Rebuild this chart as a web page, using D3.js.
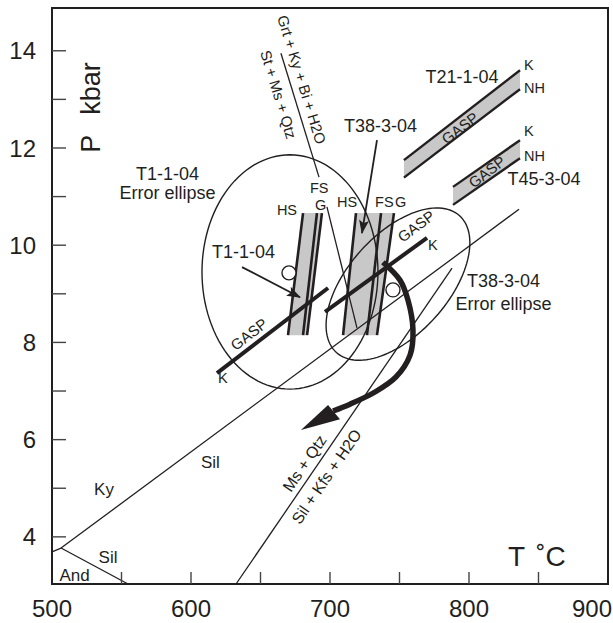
<!DOCTYPE html>
<html><head><meta charset="utf-8">
<script src="https://cdn.jsdelivr.net/npm/d3@7/dist/d3.min.js"></script>
<style>
body{margin:0;background:#fff;}
svg text{font-family:"Liberation Sans",Arial,Helvetica,sans-serif;fill:#231f20;}
</style></head><body>
<svg id="chart" width="613" height="623"></svg>
<script>
// ---------------- DATA (T in °C, P in kbar) ----------------
const tDomain = [500, 900];
const pDomain = [3.03, 14.88];
const xTickLabels = [500, 600, 700, 800, 900];
const xTickMarks = [550, 600, 650, 700, 750, 800, 850];
const yTickLabels = [4, 6, 8, 10, 12, 14];
const yTickMarks = [4, 5, 6, 7, 8, 9, 10, 11, 12, 13, 14];

// Aluminosilicate and other reaction lines
const andKy = [[500, 3.69], [506.5, 3.77]];
const andSil = [[506.5, 3.77], [554.7, 3.03]];
const kySil = [[506.5, 3.77], [836.0, 10.74]];
const msQtz = [[632.4, 3.03], [787.8, 9.53]];
const grtKyA = [[664.7, 13.95], [692.1, 11.40]];
const grtKyB = [[697.8, 10.79], [719.4, 8.30]];

// Garnet-biotite thermometer bands: [T at bottom P, T at top P]
const bandP = [8.15, 10.66];
const t1HS = [669.8, 680.6];
const t1FS = [680.6, 690.6];
const t1G = [683.5, 694.2];
const t38HS = [709.4, 718.7];
const t38FS = [726.6, 736.7];
const t38G = [733.8, 746.0];

// GASP barometer bands (K and NH calibrations)
const t21K = [[753.2, 11.75], [836.7, 13.60]];
const t21NH = [[753.2, 11.39], [836.7, 13.21]];
const t45K = [[788.5, 11.20], [836.7, 12.16]];
const t45NH = [[788.5, 10.83], [836.7, 11.79]];
const t1Gasp = [[618.7, 7.37], [698.6, 9.12]];
const t38Gasp = [[696.4, 8.63], [769.8, 10.15]];

// P-T estimates
const t1Point = [670.5, 9.43];
const t38Point = [745.3, 9.08];

// Error ellipses: centre, two conjugate half-axes (°C, kbar)
const t1EllCentre = [671.2, 9.45];
const t1EllAxisA = [63.3, 0];
const t1EllAxisB = [0, 2.41];
const t38EllCentre = [748.9, 9.20];
const t38EllAxisA = [44.3, 1.407];
const t38EllAxisB = [26.7, -0.689];

// Retrograde P-T path
const ptPath = [[738.1, 9.65], [750.4, 9.28], [756.1, 8.87], [759.7, 8.26], [757.6, 7.74],
                [747.5, 7.29], [732.4, 6.98], [714.4, 6.73], [702.2, 6.59]];
const ptHead = [[679.1, 6.20], [698.6, 6.71], [702.2, 6.59], [707.2, 6.42]];

// Label arrows
const t1Arrow = [[636.7, 9.55], [678.4, 8.93]];
const t38Arrow = [[733.8, 12.16], [723.0, 10.25]];

// ---------------- DRAWING ----------------
const ink = "#231f20", grey = "#c8c8c8";
const x = d3.scaleLinear().domain(tDomain).range([52, 608]);
const y = d3.scaleLinear().domain(pDomain).range([584, 8]);
const svg = d3.select("#chart");
const line = d3.line().x(d => x(d[0])).y(d => y(d[1]));

const defs = svg.append("defs");
defs.append("marker").attr("id", "ah").attr("viewBox", "-14 -6 16 12")
  .attr("refX", 0).attr("refY", 0).attr("markerWidth", 16).attr("markerHeight", 12)
  .attr("markerUnits", "userSpaceOnUse").attr("orient", "auto")
  .append("path").attr("d", "M1,0 L-13,-5 L-10,0 L-13,5 Z").attr("fill", ink);

const g = svg.append("g");

// grey bands
function bandPoly(a, b) {
  return [[a[0], bandP[0]], [a[1], bandP[1]], [b[1], bandP[1]], [b[0], bandP[0]]];
}
g.append("path").attr("d", line(bandPoly(t1HS, t1G)) + "Z").attr("fill", grey);
g.append("path").attr("d", line(bandPoly(t38HS, t38G)) + "Z").attr("fill", grey);
g.append("path").attr("d", line(t21K.concat(t21NH.slice().reverse())) + "Z").attr("fill", grey);
g.append("path").attr("d", line(t45K.concat(t45NH.slice().reverse())) + "Z").attr("fill", grey);

// thin reaction lines
[andKy, andSil, kySil, msQtz, grtKyA, grtKyB].forEach(l =>
  g.append("path").attr("d", line(l)).attr("fill", "none").attr("stroke", ink).attr("stroke-width", 1.3));

// ellipses
function ellipse(c, a, b) {
  return d3.range(0, 361, 3).map(deg => {
    const t = deg * Math.PI / 180;
    return [c[0] + a[0] * Math.cos(t) + b[0] * Math.sin(t), c[1] + a[1] * Math.cos(t) + b[1] * Math.sin(t)];
  });
}
g.append("path").attr("d", line.curve(d3.curveLinear)(ellipse(t1EllCentre, t1EllAxisA, t1EllAxisB)) + "Z")
  .attr("fill", "none").attr("stroke", ink).attr("stroke-width", 1.4);
g.append("path").attr("d", line(ellipse(t38EllCentre, t38EllAxisA, t38EllAxisB)) + "Z")
  .attr("fill", "none").attr("stroke", ink).attr("stroke-width", 1.4);

// thermometer lines
function bandLine(a) { return [[a[0], bandP[0]], [a[1], bandP[1]]]; }
[t1HS, t1FS, t1G, t38HS, t38FS, t38G].forEach(a =>
  g.append("path").attr("d", line(bandLine(a))).attr("fill", "none").attr("stroke", ink).attr("stroke-width", 2.6));

// GASP band edges
[t21K, t21NH, t45K, t45NH].forEach(l =>
  g.append("path").attr("d", line(l)).attr("fill", "none").attr("stroke", ink).attr("stroke-width", 2.4));
// GASP thick lines
[t1Gasp, t38Gasp].forEach(l =>
  g.append("path").attr("d", line(l)).attr("fill", "none").attr("stroke", ink).attr("stroke-width", 4));

// circles
[t1Point, t38Point].forEach(p =>
  g.append("circle").attr("cx", x(p[0])).attr("cy", y(p[1])).attr("r", 7)
    .attr("fill", "#fff").attr("stroke", ink).attr("stroke-width", 1.4));

// label arrows
[t1Arrow, t38Arrow].forEach(l =>
  g.append("path").attr("d", line(l)).attr("fill", "none").attr("stroke", ink)
    .attr("stroke-width", 1.8).attr("marker-end", "url(#ah)"));

// P-T path
const curveLine = d3.line().x(d => x(d[0])).y(d => y(d[1])).curve(d3.curveCatmullRom.alpha(0.5));
g.append("path").attr("d", curveLine(ptPath)).attr("fill", "none").attr("stroke", ink)
  .attr("stroke-width", 5.5).attr("stroke-linecap", "butt");
g.append("path").attr("d", line(ptHead) + "Z").attr("fill", ink);

// frame
svg.append("rect").attr("x", x(tDomain[0])).attr("y", y(pDomain[1]))
  .attr("width", x(tDomain[1]) - x(tDomain[0])).attr("height", y(pDomain[0]) - y(pDomain[1]))
  .attr("fill", "none").attr("stroke", ink).attr("stroke-width", 2);

// ticks (inside)
const tickCol = "#444";
yTickMarks.forEach(p => svg.append("line").attr("x1", x(tDomain[0])).attr("x2", x(tDomain[0]) + 14)
  .attr("y1", y(p)).attr("y2", y(p)).attr("stroke", tickCol).attr("stroke-width", 1.4));
xTickMarks.forEach(t => svg.append("line").attr("x1", x(t)).attr("x2", x(t))
  .attr("y1", y(pDomain[0])).attr("y2", y(pDomain[0]) - 12).attr("stroke", tickCol).attr("stroke-width", 1.4));

// tick labels
yTickLabels.forEach(p => svg.append("text").attr("x", x(tDomain[0]) - 16).attr("y", y(p)).attr("dy", "0.36em")
  .attr("text-anchor", "end").attr("font-size", 24).text(p));
xTickLabels.forEach((t, i) => {
  const last = i === xTickLabels.length - 1;
  svg.append("text").attr("x", last ? 612 : x(t)).attr("y", 617)
    .attr("text-anchor", last ? "end" : "middle").attr("font-size", 24).text(t);
});

// text annotations: [text, T, P, anchor, size, rotation(deg)]
const notes = [
  ["T1-1-04", 583.1, 11.34, "middle", 18, 0],
  ["Error ellipse", 583.1, 10.95, "middle", 18, 0],
  ["T1-1-04", 637.8, 9.73, "middle", 18, 0],
  ["T38-3-04", 736.3, 12.33, "middle", 18, 0],
  ["T21-1-04", 795.0, 13.34, "middle", 18, 0],
  ["T45-3-04", 854.0, 11.24, "middle", 18, 0],
  ["T38-3-04", 824.8, 9.13, "middle", 18, 0],
  ["Error ellipse", 824.8, 8.67, "middle", 18, 0],
  ["K", 839.6, 13.60, "start", 14.5, 0],
  ["NH", 839.6, 13.13, "start", 14.5, 0],
  ["K", 839.6, 12.25, "start", 14.5, 0],
  ["NH", 839.6, 11.73, "start", 14.5, 0],
  ["K", 619.4, 7.16, "start", 14.5, 0],
  ["K", 770.5, 9.90, "start", 14.5, 0],
  ["HS", 676.3, 10.62, "end", 14.5, 0],
  ["FS", 685.6, 11.07, "start", 14.5, 0],
  ["G", 689.2, 10.72, "start", 14.5, 0],
  ["HS", 705.0, 10.78, "start", 14.5, 0],
  ["FS", 732.4, 10.78, "start", 14.5, 0],
  ["G", 746.8, 10.78, "start", 14.5, 0],
  ["Ky", 537.4, 4.86, "middle", 17, 0],
  ["Sil", 614.0, 5.42, "middle", 17, 0],
  ["Sil", 540.3, 3.46, "middle", 17, 0],
  ["And", 516.2, 3.09, "middle", 17, 0],
  ["Ms + Qtz", 671.9, 4.90, "start", 16, -55.6],
  ["Sil + Kfs + H2O", 678.4, 4.24, "start", 16, -55.6],
  ["Grt + Ky + Bi + H2O", 661.9, 14.69, "start", 15, 73],
  ["St + Ms + Qtz", 649.6, 13.97, "start", 15, 73]
];
notes.forEach(n => {
  const px = x(n[1]), py = y(n[2]);
  svg.append("text").attr("x", px).attr("y", py).attr("text-anchor", n[3])
    .attr("font-size", n[4]).attr("transform", n[5] ? `rotate(${n[5]},${px},${py})` : null).text(n[0]);
});

// GASP labels centred in bands: [T, P, rotation]
const gaspLabels = [[793.5, 12.41, -37.6], [812.9, 11.51, -37.6], [641.7, 8.17, -38], [761.9, 10.39, -37]];
gaspLabels.forEach(d => {
  const px = x(d[0]), py = y(d[1]);
  svg.append("text").attr("x", px).attr("y", py).attr("dy", "0.36em").attr("text-anchor", "middle")
    .attr("font-size", 15).attr("transform", `rotate(${d[2]},${px},${py})`).text("GASP");
});

// axis titles
const pt = [534.5, 11.90];
svg.append("text").attr("x", x(pt[0])).attr("y", y(pt[1])).attr("font-size", 27)
  .attr("transform", `rotate(-90,${x(pt[0])},${y(pt[1])})`)
  .call(t => { t.append("tspan").text("P"); t.append("tspan").attr("dx", 20).text("kbar"); });
const tt = [828.1, 3.40];
svg.append("text").attr("x", x(tt[0])).attr("y", y(tt[1])).attr("font-size", 28)
  .call(t => { t.append("tspan").text("T"); t.append("tspan").attr("dx", 11).text("˚C"); });
</script>
</body></html>
